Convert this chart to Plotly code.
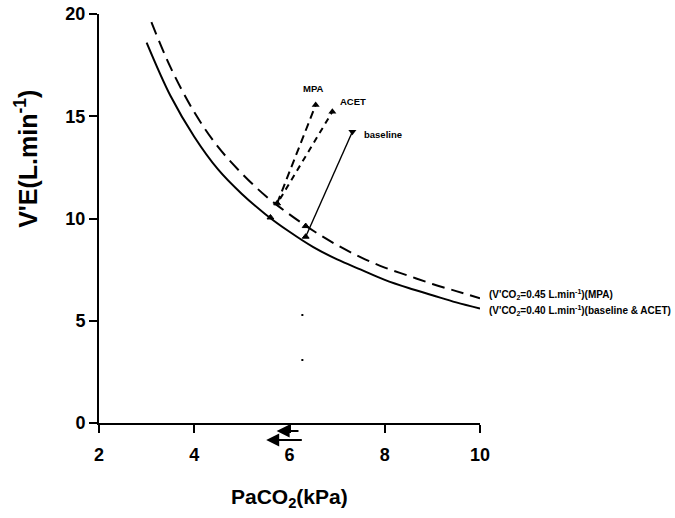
import plotly.graph_objects as go

# Ventilation isopleths: V'E against PaCO2 at two CO2 outputs
paco2_040 = [3.0, 3.5, 4.0, 4.5, 5.0, 5.5, 6.0, 6.5, 7.0, 7.5, 8.0, 8.5, 9.0, 9.5, 10.0]
ve_040 = [18.6, 16.0, 14.0, 12.4, 11.2, 10.2, 9.35, 8.6, 8.0, 7.5, 7.0, 6.6, 6.25, 5.9, 5.6]

paco2_045 = [3.1, 3.5, 4.0, 4.5, 5.0, 5.5, 6.0, 6.5, 7.0, 7.5, 8.0, 8.5, 9.0, 9.5, 10.0]
ve_045 = [19.6, 17.4, 15.2, 13.5, 12.2, 11.1, 10.2, 9.4, 8.7, 8.1, 7.6, 7.2, 6.8, 6.45, 6.1]

# Condition vectors: start point on isopleth -> observed point
conditions = ["MPA", "ACET", "baseline"]
start_x = [5.74, 5.80, 6.34]
start_y = [10.74, 10.95, 9.11]
end_x = [6.55, 6.90, 7.32]
end_y = [15.55, 15.22, 14.24]

# Markers sitting on the isopleths
anchor_x = [5.74, 5.60, 6.34, 6.34]
anchor_y = [10.74, 10.05, 9.63, 9.11]

# Stray points in the field
speck_x = [6.27, 6.27]
speck_y = [5.28, 3.08]

# PaCO2 shift arrows drawn under the axis
shift_tail = [6.22, 6.29]
shift_head = [5.73, 5.51]
shift_y = [-0.39, -0.83]
shift_stem_x = 6.0

# Isopleth labels at the right-hand end of each curve
iso_label_x = 10.15
iso_label_y = [6.26, 5.48]
iso_labels = ["(V'CO<sub>2</sub>=0.45 L.min<sup>-1</sup>)(MPA)",
              "(V'CO<sub>2</sub>=0.40 L.min<sup>-1</sup>)(baseline &amp; ACET)"]

x_ticks = [2, 4, 6, 8, 10]
y_ticks = [0, 5, 10, 15, 20]

X_RANGE = [2, 10]
Y_RANGE = [0, 20]
FONT = "Liberation Sans, Arial, sans-serif"


def fx(v):
    """Data x -> fraction of the x domain (for items placed outside the axis range)."""
    return (v - X_RANGE[0]) / (X_RANGE[1] - X_RANGE[0])


def fy(v):
    """Data y -> fraction of the y domain."""
    return (v - Y_RANGE[0]) / (Y_RANGE[1] - Y_RANGE[0])


fig = go.Figure()

fig.add_trace(go.Scatter(x=paco2_045, y=ve_045, mode="lines", line_shape="spline",
                         line=dict(color="black", width=2, dash="13px,7px"), showlegend=False))
fig.add_trace(go.Scatter(x=paco2_040, y=ve_040, mode="lines", line_shape="spline",
                         line=dict(color="black", width=2), showlegend=False))

dashes = ["8px,5px", "6px,5px", "solid"]
widths = [2, 2, 1.4]
end_symbols = ["triangle-up", "triangle-up", "triangle-down"]
for i, name in enumerate(conditions):
    fig.add_trace(go.Scatter(x=[start_x[i], end_x[i]], y=[start_y[i], end_y[i]], mode="lines",
                             line=dict(color="black", width=widths[i], dash=dashes[i]),
                             showlegend=False))
    fig.add_trace(go.Scatter(x=[end_x[i]], y=[end_y[i]], mode="markers",
                             marker=dict(symbol=end_symbols[i], size=7, color="black"),
                             showlegend=False))

fig.add_trace(go.Scatter(x=anchor_x, y=anchor_y, mode="markers",
                         marker=dict(symbol="triangle-up", size=6, color="black",
                                     line=dict(color="black", width=1)),
                         showlegend=False))
fig.add_trace(go.Scatter(x=speck_x, y=speck_y, mode="markers",
                         marker=dict(symbol="square", size=2, color="black"),
                         showlegend=False))

annotations = []
label_pos = {"MPA": (6.51, 16.38, "center"), "ACET": (7.02, 15.7, "left"),
             "baseline": (7.52, 14.13, "left")}
for name in conditions:
    lx, ly, anchor = label_pos[name]
    annotations.append(dict(x=lx, y=ly, text="<b>%s</b>" % name, showarrow=False,
                            xanchor=anchor, yanchor="middle",
                            font=dict(family=FONT, size=9.5, color="black")))

DX, DY = "x domain", "y domain"
for text, ly in zip(iso_labels, iso_label_y):
    annotations.append(dict(xref=DX, yref=DY, x=fx(iso_label_x), y=fy(ly),
                            xanchor="left", yanchor="middle", showarrow=False,
                            text="<b>%s</b>" % text,
                            font=dict(family=FONT, size=10, color="black")))

for tail, head, yy in zip(shift_tail, shift_head, shift_y):
    annotations.append(dict(xref=DX, yref=DY, x=fx(head), y=fy(yy),
                            axref=DX, ayref=DY, ax=fx(tail), ay=fy(yy),
                            text="", showarrow=True, arrowhead=2, arrowsize=1.3,
                            arrowwidth=2, arrowcolor="black"))
annotations.append(dict(xref=DX, yref=DY, x=fx(shift_stem_x), y=fy(0),
                        axref=DX, ayref=DY, ax=fx(shift_stem_x), ay=fy(shift_y[0]),
                        text="", showarrow=True, arrowhead=0, arrowwidth=1.5,
                        arrowcolor="black"))

# Axis titles
annotations.append(dict(xref="paper", yref="paper", x=-0.19, y=0.645, textangle=-90,
                        xanchor="center", yanchor="middle", showarrow=False,
                        text="<b>V'E(L.min<sup>-1</sup>)</b>",
                        font=dict(family=FONT, size=25, color="black")))
annotations.append(dict(xref="paper", yref="paper", x=0.5, y=-0.183,
                        xanchor="center", yanchor="middle", showarrow=False,
                        text="<b>PaCO<sub>2</sub>(kPa)</b>",
                        font=dict(family=FONT, size=21, color="black")))

axis_common = dict(showgrid=False, zeroline=False, showline=True, linecolor="black",
                   linewidth=2, ticks="outside", ticklen=8, tickwidth=2, tickcolor="black",
                   automargin=False,
                   tickfont=dict(family=FONT, size=18, color="black"))

fig.update_layout(
    width=675, height=518,
    margin=dict(l=99, r=195, t=14, b=95),
    paper_bgcolor="white", plot_bgcolor="white",
    font=dict(family=FONT, color="black"),
    annotations=annotations,
    xaxis=dict(range=X_RANGE, tickvals=x_ticks, ticklabelstandoff=6,
               ticktext=["<b>%d</b>" % v for v in x_ticks], **axis_common),
    yaxis=dict(range=Y_RANGE, tickvals=y_ticks,
               ticktext=["<b>%d</b>" % v for v in y_ticks], **axis_common),
)

fig.write_html("out.html")
